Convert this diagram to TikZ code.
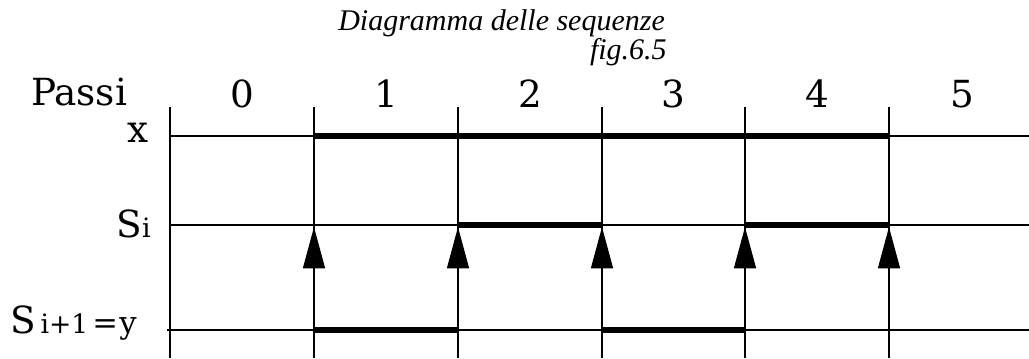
\documentclass[tikz,border=0pt]{standalone}
\usepackage{fontspec}
\setmainfont{Liberation Serif}
\newfontfamily\lblfont{DejaVu Serif}
\usetikzlibrary{arrows.meta}
\tikzset{
  grid/.style={line width=1pt, black},
  level/.style={line width=4.4pt, black},
  trig/.style={line width=1pt, -{Triangle[length=31pt,width=16.5pt]}},
  lbl/.style={inner sep=0pt, font=\lblfont\fontsize{28}{28}\selectfont},
  ttl/.style={inner sep=0pt, font=\itshape\fontsize{22.5}{22.5}\selectfont}
}
\begin{document}
\begin{tikzpicture}[x=0.75pt,y=-0.75pt]
\useasboundingbox (0,0) rectangle (1029,358);
% column boundaries and signal rows
\foreach \n/\xx in {0/170,1/314,2/458,3/602,4/745,5/889}{
  \coordinate (t\n) at (\xx,107);
  \coordinate (b\n) at (\xx,358);
  \coordinate (x\n) at (\xx,136);
  \coordinate (s\n) at (\xx,225);
  \coordinate (y\n) at (\xx,330);
}
\coordinate (xe) at (1029,136);
\coordinate (se) at (1029,225);
\coordinate (ys) at (167,330);
\coordinate (ye) at (1029,330);
\coordinate (s1a) at (314,227);
\coordinate (s2a) at (458,227);
\coordinate (s3a) at (602,227);
\coordinate (s4a) at (745,227);
\coordinate (s5a) at (889,227);

% grid
\foreach \n in {0,...,5}{ \draw[grid] (t\n) -- (b\n); }
\draw[grid] (x0) -- (xe);
\draw[grid] (s0) -- (se);
\draw[grid] (ys) -- (ye);

% active intervals
\draw[level] (x1) -- (x5);
\draw[level] (s2) -- (s3);
\draw[level] (s4) -- (s5);
\draw[level] (y1) -- (y2);
\draw[level] (y3) -- (y4);

% trigger arrows
\draw[trig] (y1) -- (s1a);
\draw[trig] (y2) -- (s2a);
\draw[trig] (y3) -- (s3a);
\draw[trig] (y4) -- (s4a);
\draw[trig] (y5) -- (s5a);

% titles
\node[ttl, anchor=base west] (title) at (338,30) {Diagramma delle sequenze};
\node[ttl, anchor=base east] (fig) at (667,59) {fig.6.5};

% step numbers
\node[lbl, anchor=base] (passi) at (79,105) {Passi};
\node[lbl, anchor=base] (p0) at (242,107) {0};
\node[lbl, anchor=base] (p1) at (386,107) {1};
\node[lbl, anchor=base] (p2) at (530,107) {2};
\node[lbl, anchor=base] (p3) at (673,107) {3};
\node[lbl, anchor=base] (p4) at (817,107) {4};
\node[lbl, anchor=base] (p5) at (962,107) {5};

% row labels
\node[lbl, anchor=base] (lx) at (138,142) {x};
\node[lbl, anchor=base east] (ls) at (151,237) {S{\fontsize{20}{20}\selectfont i}};
\node[lbl, anchor=base east] (ly) at (137,333) {S\hspace{3pt}{\fontsize{20}{20}\selectfont i+1}\hspace{3pt}{\fontsize{23}{23}\selectfont =\hspace{1pt}y}};
\end{tikzpicture}
\end{document}
